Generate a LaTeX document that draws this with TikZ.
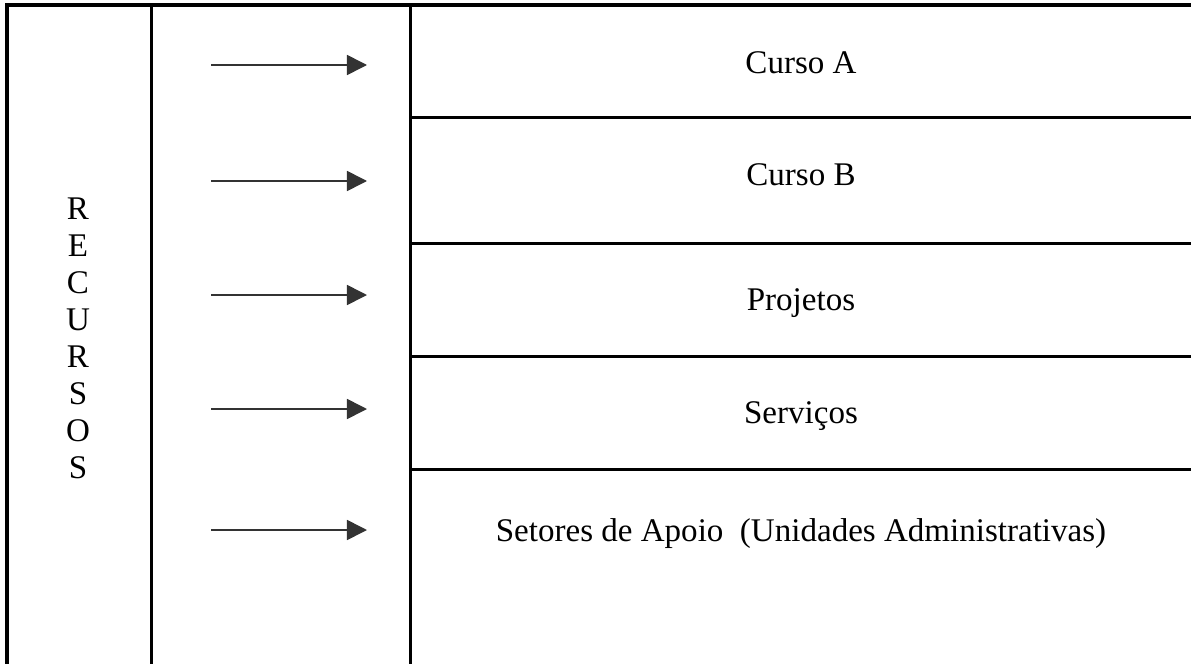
\documentclass[tikz,border=0pt]{standalone}
\usepackage{fontspec}
\setmainfont{Liberation Serif}
\usepackage{tikz}
\usetikzlibrary{arrows.meta}

\definecolor{setacinza}{HTML}{333333}

\begin{document}
\begin{tikzpicture}[x=0.025cm,y=-0.025cm,
        linha/.style={line width=0.075cm,black},
        seta/.style={line width=0.04cm,setacinza,-{Triangle[length=0.5cm,width=0.5cm]}},
        texto/.style={anchor=base,inner sep=0pt,font=\fontsize{23.5pt}{26.3pt}\selectfont}]
            \def\xa{7}
            \def\xb{151}
            \def\xc{410}
            \useasboundingbox (0,0) rectangle (1191,664);

            % table lines
            \draw[linha] (\xa,664) -- (\xa,5) -- (1191,5);
            \draw[linha] (\xb,5) -- (\xb,664);
            \draw[linha] (\xc,5) -- (\xc,664);
            \foreach \y in {117.5,243,356,469}
                \draw[linha] (\xc,\y) -- (1191,\y);

            % vertical word
            \foreach \l [count=\i] in {R,E,C,U,R,S,O,S}
                \node[texto] (rec\i) at (78,{219+37*(\i-1)}) {\l};

            % arrows
            \foreach \y [count=\i] in {65,181,295,409,530} {
                \coordinate (de\i) at (211,\y);
                \coordinate (para\i) at (367,\y);
                \draw[seta] (de\i) -- (para\i);
            }

            % cells
            \node[texto] (cursoA) at (801,73) {Curso A};
            \node[texto] (cursoB) at (801,185) {Curso B};
            \node[texto] (projetos) at (801,310) {Projetos};
            \node[texto] (servicos) at (801,423) {Serviços};
            \node[texto] (setores) at (801,541) {Setores de Apoio~ (Unidades Administrativas)};
        \end{tikzpicture}
\end{document}
